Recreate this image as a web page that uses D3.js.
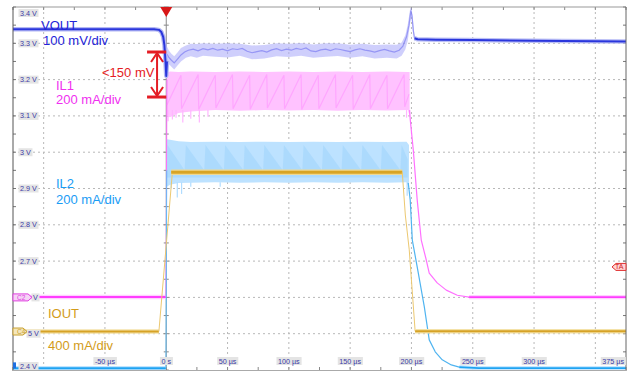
<!DOCTYPE html>
<html>
<head>
<meta charset="utf-8">
<script src="https://cdn.jsdelivr.net/npm/d3@7"></script>
<style>
  html, body { margin: 0; padding: 0; background: #fff; }
  svg { display: block; font-family: "Liberation Sans", Arial, sans-serif; }
</style>
</head>
<body>
<script>
// time in µs, values in screen volts (V/div scale of the scope)
var xTickValues = [-50, 0, 50, 100, 150, 200, 250, 300, 375];
var xTickLabels = ["-50 µs", "0 s", "50 µs", "100 µs", "150 µs", "200 µs", "250 µs", "300 µs", "375 µs"];
var yTickValues = [3.4, 3.3, 3.2, 3.1, 3.0, 2.9, 2.8, 2.7, 2.6, 2.5, 2.4];
// 2.6 V and 2.5 V are partly hidden behind the channel tags
var yTickLabels = ["3.4 V", "3.3 V", "3.2 V", "3.1 V", "3 V", "2.9 V", "2.8 V", "2.7 V", "V", "5 V", "2.4 V"];

// VOUT (blue)
var voutPre = [[-125, 3.339], [-10, 3.339], [-6, 3.337], [-4, 3.331], [-2.5, 3.318], [-1.5, 3.295], [-0.6, 3.25], [0, 3.21], [0.6, 3.25]];
var voutBand = [
  [0.5, 3.250, 3.292], [2, 3.243, 3.281], [4, 3.236, 3.272], [6.5, 3.228, 3.264], [9, 3.238, 3.274],
  [12, 3.250, 3.287], [16, 3.260, 3.294], [20, 3.264, 3.299], [25, 3.260, 3.298], [30, 3.266, 3.300],
  [40, 3.263, 3.299], [50, 3.261, 3.300], [60, 3.266, 3.299], [70, 3.256, 3.294], [80, 3.258, 3.295],
  [90, 3.264, 3.300], [100, 3.262, 3.299], [110, 3.266, 3.301], [120, 3.260, 3.297], [130, 3.263, 3.300],
  [140, 3.265, 3.300], [150, 3.260, 3.296], [160, 3.264, 3.299], [170, 3.258, 3.295], [180, 3.260, 3.297],
  [188, 3.258, 3.296], [192, 3.266, 3.302], [195, 3.283, 3.322], [197, 3.308, 3.352], [199, 3.358, 3.396],
  [200, 3.373, 3.399], [201, 3.338, 3.372], [202.5, 3.303, 3.322]
];
var voutMid = [
  [0.6, 3.27], [2, 3.262], [4, 3.254], [6.5, 3.246], [9, 3.256], [12, 3.268], [15, 3.276], [18, 3.281],
  [22, 3.284], [26, 3.279], [30, 3.285], [34, 3.282], [38, 3.286], [42, 3.281], [46, 3.284], [50, 3.279],
  [54, 3.285], [58, 3.283], [62, 3.286], [66, 3.278], [70, 3.274], [74, 3.277], [78, 3.280], [82, 3.276],
  [86, 3.282], [90, 3.285], [94, 3.280], [98, 3.284], [102, 3.281], [106, 3.286], [110, 3.283], [114, 3.287],
  [118, 3.279], [122, 3.277], [126, 3.282], [130, 3.284], [134, 3.280], [138, 3.285], [142, 3.283],
  [146, 3.280], [150, 3.277], [154, 3.282], [158, 3.285], [162, 3.281], [166, 3.279], [170, 3.276],
  [174, 3.280], [178, 3.283], [182, 3.279], [186, 3.276], [190, 3.281], [193, 3.292], [196, 3.318],
  [198, 3.350], [199.5, 3.390], [200.5, 3.375], [201.5, 3.335], [202.5, 3.314]
];
var voutPost = [[202.5, 3.314], [205, 3.311], [220, 3.310], [250, 3.309], [300, 3.307], [375, 3.305]];

// IL1 (magenta)
var il1Pre = [[-125, 2.601], [-0.3, 2.601]];
var il1Rise = [[-0.3, 2.601], [0, 2.75], [0.3, 3.0], [0.6, 3.2]];
var il1Band = [
  [0.4, 3.100, 3.218], [3, 3.096, 3.222], [10, 3.108, 3.221], [20, 3.112, 3.222], [40, 3.116, 3.221],
  [60, 3.114, 3.222], [80, 3.116, 3.221], [100, 3.115, 3.222], [120, 3.116, 3.221], [140, 3.114, 3.222],
  [160, 3.116, 3.221], [180, 3.115, 3.222], [197, 3.116, 3.221], [198.5, 3.100, 3.221]
];
var il1Ripple = [
  [0.5, 3.13], [12, 3.212], [12.5, 3.12], [26, 3.214], [26.5, 3.118], [40, 3.212], [40.5, 3.122],
  [54, 3.214], [54.5, 3.12], [68, 3.212], [68.5, 3.118], [82, 3.214], [82.5, 3.122], [96, 3.212],
  [96.5, 3.12], [110, 3.214], [110.5, 3.118], [124, 3.212], [124.5, 3.12], [138, 3.214], [138.5, 3.122],
  [152, 3.212], [152.5, 3.118], [166, 3.214], [166.5, 3.12], [180, 3.212], [180.5, 3.12], [194, 3.214],
  [194.5, 3.125], [198, 3.16]
];
var il1Dips = [[1.5, 3.085], [5, 3.09], [8, 3.095], [13.5, 3.082], [20, 3.092], [27, 3.082], [34, 3.098], [196, 3.095]];
var il1Fall = [
  [198.5, 3.116], [199, 3.09], [201.5, 3.006], [204.7, 2.868], [208, 2.758], [212.1, 2.703], [214.5, 2.667],
  [221, 2.640], [228.4, 2.620], [237.4, 2.606], [247, 2.601]
];
var il1Post = [[247, 2.601], [375, 2.601]];

// IL2 (light blue)
var il2Pre = [[-125, 2.405], [-0.3, 2.405]];
var il2Rise = [[-0.3, 2.405], [0, 2.6], [0.4, 2.95]];
var il2Band = [
  [0.4, 2.905, 3.036], [3, 2.910, 3.034], [10, 2.915, 3.030], [20, 2.916, 3.028], [40, 2.917, 3.029],
  [60, 2.916, 3.028], [80, 2.917, 3.029], [100, 2.916, 3.028], [120, 2.917, 3.029], [140, 2.916, 3.028],
  [160, 2.917, 3.029], [180, 2.916, 3.028], [196, 2.917, 3.029], [198, 2.900, 3.020]
];
var il2Ripple = [
  [0.5, 2.95], [1, 3.02], [15, 2.95], [16, 3.02], [31, 2.95], [32, 3.02], [47, 2.95], [48, 3.02],
  [63, 2.95], [64, 3.02], [79, 2.95], [80, 3.02], [95, 2.95], [96, 3.02], [111, 2.95], [112, 3.02],
  [127, 2.95], [128, 3.02], [143, 2.95], [144, 3.02], [159, 2.95], [160, 3.02], [175, 2.95], [176, 3.02],
  [191, 2.95], [192, 3.02], [197, 2.98]
];
var il2Dips = [[4, 2.90], [9, 2.875], [12.5, 2.885], [20, 2.905], [44, 2.905], [196.5, 2.88]];
var il2Fall = [
  [197.4, 2.915], [199, 2.868], [200.7, 2.758], [205.6, 2.667], [210.5, 2.574], [214.5, 2.483],
  [219.4, 2.450], [225.1, 2.428], [232.5, 2.414], [239, 2.408], [255, 2.405]
];
var il2Post = [[239, 2.408], [255, 2.405], [375, 2.405]];

// IOUT (gold)
var ioutPre = [[-125, 2.506], [-6, 2.506]];
var ioutRise = [[-6, 2.506], [0, 2.745], [5, 2.945]];
var ioutTop = [[4, 2.945], [192.5, 2.945]];
var ioutFall = [[192.5, 2.945], [195, 2.827], [198.2, 2.731], [203, 2.507]];
var ioutPost = [[203, 2.507], [375, 2.507]];

// annotation and markers
var dropTop = 3.276, dropBottom = 3.152, dropTime = -7.5;
var triggerLevel = 2.684;

var W = 628, H = 374;
var x = d3.scaleLinear().domain([-125, 375]).range([13, 626]);
var y = d3.scaleLinear().domain([2.4, 3.4]).range([370, 7]);

var svg = d3.select("body").append("svg").attr("width", W).attr("height", H);

var line = d3.line().x(function (d) { return x(d[0]); }).y(function (d) { return y(d[1]); });
var band = d3.area().x(function (d) { return x(d[0]); })
  .y0(function (d) { return y(d[1]); }).y1(function (d) { return y(d[2]); });

// grid
var grid = svg.append("g");
grid.selectAll("line.gx").data(x.ticks(10).filter(function (t) { return t !== 0; }))
  .enter().append("line")
  .attr("x1", function (d) { return x(d); }).attr("x2", function (d) { return x(d); })
  .attr("y1", 7).attr("y2", 370)
  .attr("stroke", "#b8b8b8").attr("stroke-dasharray", "2,3");
grid.selectAll("line.gy").data(y.ticks(10).filter(function (v) { return v > 2.45 && v < 3.35; }))
  .enter().append("line")
  .attr("x1", 13).attr("x2", 626)
  .attr("y1", function (d) { return y(d); }).attr("y2", function (d) { return y(d); })
  .attr("stroke", "#b8b8b8").attr("stroke-dasharray", "2,3");

// minor ticks on frame and on the 0 s axis
var halfT = d3.range(-125, 375.1, 25);
var halfV = d3.range(2.4, 3.401, 0.05);
grid.selectAll("line.tt").data(halfT).enter().append("line")
  .attr("x1", function (d) { return x(d); }).attr("x2", function (d) { return x(d); })
  .attr("y1", 7).attr("y2", 10).attr("stroke", "#888");
grid.selectAll("line.tb").data(halfT).enter().append("line")
  .attr("x1", function (d) { return x(d); }).attr("x2", function (d) { return x(d); })
  .attr("y1", 370).attr("y2", 367).attr("stroke", "#888");
grid.selectAll("line.tl").data(halfV).enter().append("line")
  .attr("x1", 13).attr("x2", 16)
  .attr("y1", function (d) { return y(d); }).attr("y2", function (d) { return y(d); }).attr("stroke", "#777");
grid.selectAll("line.tr").data(halfV).enter().append("line")
  .attr("x1", 623).attr("x2", 626)
  .attr("y1", function (d) { return y(d); }).attr("y2", function (d) { return y(d); }).attr("stroke", "#777");
grid.selectAll("line.tc").data(halfV).enter().append("line")
  .attr("x1", x(0) - 2.5).attr("x2", x(0) + 2.5)
  .attr("y1", function (d) { return y(d); }).attr("y2", function (d) { return y(d); }).attr("stroke", "#888");
grid.append("line").attr("x1", x(0)).attr("x2", x(0)).attr("y1", 7).attr("y2", 370)
  .attr("stroke", "#8a8a8a");

// IL1 band
var traces = svg.append("g");
traces.append("path").datum(il1Band).attr("d", band).attr("fill", "#ffc2ff");
traces.append("path").datum(il1Ripple).attr("d", line).attr("fill", "none")
  .attr("stroke", "#ff90ff").attr("stroke-width", 1.2).attr("opacity", 0.55);
traces.selectAll("line.d1").data(il1Dips).enter().append("line")
  .attr("x1", function (d) { return x(d[0]); }).attr("x2", function (d) { return x(d[0]); })
  .attr("y1", y(3.116)).attr("y2", function (d) { return y(d[1]); })
  .attr("stroke", "#ffb6ff").attr("stroke-width", 1.2);

// IL2 band
traces.append("path").datum(il2Band).attr("d", band).attr("fill", "#bde2ff");
traces.append("path").datum(il2Ripple.concat([[197, 2.93], [0.5, 2.93]])).attr("d", line)
  .attr("fill", "#94cffa").attr("opacity", 0.4);
traces.selectAll("line.d2").data(il2Dips).enter().append("line")
  .attr("x1", function (d) { return x(d[0]); }).attr("x2", function (d) { return x(d[0]); })
  .attr("y1", y(2.917)).attr("y2", function (d) { return y(d[1]); })
  .attr("stroke", "#b0dcff").attr("stroke-width", 1.2);

// VOUT band
traces.append("path").datum(voutBand).attr("d", band).attr("fill", "#a8a8fa").attr("opacity", 0.55);
traces.append("path").datum(voutMid).attr("d", line).attr("fill", "none")
  .attr("stroke", "#7070f0").attr("stroke-width", 1.2).attr("opacity", 0.6);

// solid trace segments
function trace(data, color, width, halo) {
  if (halo) {
    traces.append("path").datum(data).attr("d", line).attr("fill", "none")
      .attr("stroke", halo).attr("stroke-width", width + 2.5).attr("stroke-linejoin", "round");
  }
  traces.append("path").datum(data).attr("d", line).attr("fill", "none")
    .attr("stroke", color).attr("stroke-width", width).attr("stroke-linejoin", "round");
}
trace(il1Pre, "#ff3cff", 2, "#ffd0ff");
trace(il1Rise, "#ff70ff", 1);
trace(il1Fall, "#ff70ff", 1.2);
trace(il1Post, "#ff3cff", 1.8, "#ffd0ff");
trace(il2Pre, "#1ea3f2", 2, "#c0e4ff");
trace(il2Rise, "#60bcf4", 1);
trace(il2Fall, "#50b4f0", 1.2);
trace(il2Post, "#1ea3f2", 1.8, "#c8e8ff");
trace(ioutPre, "#d6a226", 2, "#f4e2a8");
trace(ioutRise, "#ecc870", 1);
trace(ioutTop, "#d8a424", 3, "#f0d890");
trace(ioutFall, "#ecc870", 1);
trace(ioutPost, "#d6a226", 2, "#f4e2a8");
trace(voutPre, "#2a36dc", 2, "#b4b8f4");
trace(voutPost, "#2a36dc", 2, "#bcc0f6");

// frame
svg.append("line").attr("x1", 13).attr("x2", 626).attr("y1", 7).attr("y2", 7).attr("stroke", "#999");
svg.append("line").attr("x1", 13).attr("x2", 13).attr("y1", 7).attr("y2", 371).attr("stroke", "#555");
svg.append("line").attr("x1", 626).attr("x2", 626).attr("y1", 7).attr("y2", 371).attr("stroke", "#666");
svg.append("line").attr("x1", 13).attr("x2", 626).attr("y1", 370.5).attr("y2", 370.5).attr("stroke", "#aaa");

// tick labels with grey boxes
function boxLabel(g, tx, ty, text, anchor) {
  var t = g.append("text").attr("x", tx).attr("y", ty).attr("dy", "0.35em")
    .attr("font-size", 7.2).attr("fill", "#3a3aa6").attr("text-anchor", anchor || "start").text(text);
  var b = t.node().getBBox();
  g.insert("rect", function () { return t.node(); })
    .attr("x", b.x - 1.5).attr("y", b.y + 0.5).attr("width", b.width + 3).attr("height", b.height - 1)
    .attr("fill", "#e4e4e4");
}
var labels = svg.append("g");
yTickValues.forEach(function (v, i) {
  var ty = y(v), tx = 20;
  if (i === 0) ty = 13;
  if (i === yTickValues.length - 1) ty = 366;
  if (yTickLabels[i] === "V") tx = 33;
  if (yTickLabels[i] === "5 V") tx = 28;
  boxLabel(labels, tx, ty, yTickLabels[i]);
});
xTickValues.forEach(function (t, i) {
  if (i === xTickValues.length - 1) boxLabel(labels, 624, 361, xTickLabels[i], "end");
  else boxLabel(labels, x(t), 361, xTickLabels[i], "middle");
});

// channel tags on the left
function tag(ty, x2, stroke, fill, text) {
  var g = svg.append("g");
  g.append("path")
    .attr("d", "M13," + (ty - 3.5) + "L" + (x2 - 4) + "," + (ty - 3.5) + "L" + x2 + "," + ty +
      "L" + (x2 - 4) + "," + (ty + 3.5) + "L13," + (ty + 3.5) + "Z")
    .attr("fill", fill).attr("stroke", stroke).attr("stroke-width", 1);
  if (text) g.append("text").attr("x", 17).attr("y", ty).attr("dy", "0.35em")
    .attr("font-size", 6.5).attr("fill", stroke).text(text);
}
tag(y(2.6), 32, "#e040e0", "#f6d2f6", "C2");
tag(y(2.506), 27, "#c8a030", "#f4e6bc", "C4");
svg.append("rect").attr("x", 13).attr("y", y(2.41) - 4).attr("width", 3).attr("height", 6).attr("fill", "#1e6fe0");

// trigger marker (top) and trigger level marker (right)
svg.append("path")
  .attr("d", "M" + (x(0) - 6) + ",7L" + (x(0) + 6) + ",7L" + x(0) + ",17Z").attr("fill", "#d81818");
var ty0 = y(triggerLevel);
svg.append("path")
  .attr("d", "M626," + (ty0 - 3.5) + "L616," + (ty0 - 3.5) + "L612," + ty0 + "L616," + (ty0 + 3.5) + "L626," + (ty0 + 3.5) + "Z")
  .attr("fill", "#ffd4d4").attr("stroke", "#e03030");
svg.append("text").attr("x", 615).attr("y", ty0).attr("dy", "0.35em").attr("font-size", 7)
  .attr("fill", "#d02020").text("TA");

// channel text
var txt = [
  ["VOUT", 41, 29.5, "#2424d8"], ["100 mV/div", 43, 45, "#2424d8"],
  ["IL1", 56, 90, "#f030f0"], ["200 mA/div", 56, 104, "#f030f0"],
  ["IL2", 56, 188, "#1a9cf5"], ["200 mA/div", 56, 204, "#1a9cf5"],
  ["IOUT", 48, 318, "#d39c1a"], ["400 mA/div", 48, 350, "#d39c1a"]
];
svg.selectAll("text.ch").data(txt).enter().append("text")
  .attr("x", function (d) { return d[1]; }).attr("y", function (d) { return d[2]; })
  .attr("font-size", 13).attr("fill", function (d) { return d[3]; })
  .text(function (d) { return d[0]; });

// <150 mV annotation
var ax = x(dropTime), yt = y(dropTop), yb = y(dropBottom);
var red = "#e41c24";
var ann = svg.append("g").attr("stroke", red).attr("fill", "none").attr("stroke-width", 2);
ann.append("line").attr("x1", ax - 10).attr("x2", x(0)).attr("y1", yt).attr("y2", yt).attr("stroke-width", 3);
ann.append("line").attr("x1", ax - 10).attr("x2", x(0)).attr("y1", yb).attr("y2", yb).attr("stroke-width", 3);
ann.append("line").attr("x1", ax).attr("x2", ax).attr("y1", yt).attr("y2", yb);
ann.append("path").attr("d", "M" + (ax - 6) + "," + (yt + 10) + "L" + ax + "," + (yt + 1) + "L" + (ax + 6) + "," + (yt + 10));
ann.append("path").attr("d", "M" + (ax - 6) + "," + (yb - 10) + "L" + ax + "," + (yb - 1) + "L" + (ax + 6) + "," + (yb - 10));
svg.append("text").attr("x", 102).attr("y", 77).attr("font-size", 13).attr("fill", red).text("<150 mV");
</script>
</body>
</html>
